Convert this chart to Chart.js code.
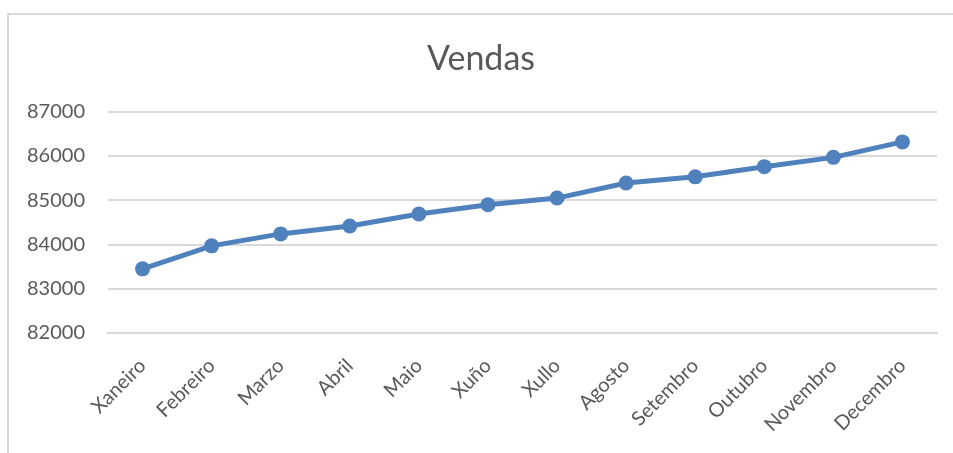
<!DOCTYPE html>
<html>
<head>
<meta charset="utf-8">
<script src="https://cdn.jsdelivr.net/npm/chart.js@4"></script>
<style>
    html, body { margin: 0; padding: 0; background: #fff; }
    #caixa { position: relative; width: 953px; height: 453px; overflow: hidden; }
    #marco { position: absolute; left: 7px; top: 13px; width: 960px; height: 460px; border: 2px solid #d9d9d9; box-sizing: border-box; }
    #graficoVendas { position: absolute; left: 0; top: 0; }
</style>
</head>
<body>
<div id="caixa">
    <div id="marco"></div>
    <canvas id="graficoVendas" width="953" height="453"></canvas>
</div>
<script>
const meses = ['Xaneiro', 'Febreiro', 'Marzo', 'Abril', 'Maio', 'Xuño', 'Xullo', 'Agosto', 'Setembro', 'Outubro', 'Novembro', 'Decembro'];
const vendas = [83450, 83970, 84240, 84420, 84690, 84900, 85050, 85390, 85530, 85760, 85970, 86320];
const minY = 82000;
const maxY = 87000;
const pasoY = 1000;

const cinza = '#595959';
const liña = '#d9d9d9';
const azul = '#4f81bd';

const graficoVendas = document.getElementById('graficoVendas');

new Chart(graficoVendas, {
    type: 'line',
    data: {
        labels: meses,
        datasets: [{
            label: 'Vendas',
            data: vendas,
            borderColor: azul,
            backgroundColor: azul,
            borderWidth: 5,
            pointRadius: 7.5,
            pointBackgroundColor: azul,
            pointBorderWidth: 0,
            tension: 0
        }]
    },
    options: {
        responsive: false,
        animation: false,
        layout: { padding: { left: 25, right: 16, top: 0, bottom: 0 } },
        plugins: {
            legend: { display: false },
            tooltip: { enabled: false },
            title: {
                display: true,
                text: 'Vendas',
                color: cinza,
                font: { family: 'Lato', size: 34, weight: 'normal' },
                padding: { top: 39, bottom: 32 }
            }
        },
        scales: {
            x: {
                offset: true,
                grid: { display: false, drawTicks: false },
                border: { color: liña, width: 2 },
                ticks: {
                    color: cinza,
                    font: { family: 'Lato', size: 20 },
                    minRotation: 45,
                    maxRotation: 45,
                    padding: 21
                },
                // altura fixa para que os meses rotados non encollan a área
                afterFit: eixo => {
                    eixo.height = 120;
                    eixo.paddingLeft = 0;
                    eixo.paddingRight = 0;
                }
            },
            y: {
                min: minY,
                max: maxY,
                grid: { color: liña, lineWidth: 2, drawTicks: false },
                border: { display: false },
                ticks: {
                    stepSize: pasoY,
                    color: cinza,
                    font: { family: 'Lato', size: 20 },
                    padding: 23,
                    callback: valor => String(valor)
                },
                afterFit: eixo => { eixo.width = 83; }
            }
        }
    }
});
</script>
</body>
</html>
